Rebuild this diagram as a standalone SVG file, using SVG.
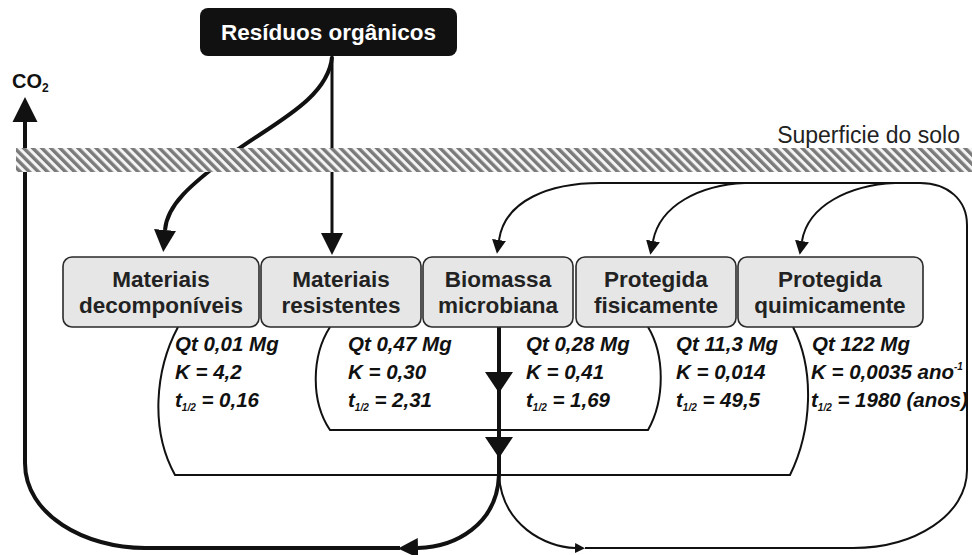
<svg xmlns="http://www.w3.org/2000/svg" width="972" height="555" viewBox="0 0 972 555">
<style>
.box{fill:#e6e6e6;stroke:#2a2a2a;stroke-width:1.6}
.lbl{font-family:"Liberation Sans",Arial,sans-serif;font-weight:bold;font-size:22.5px;fill:#222;text-anchor:middle}
.dat{font-family:"Liberation Sans",Arial,sans-serif;font-weight:bold;font-style:italic;font-size:20.5px;fill:#111}
.thick{fill:none;stroke:#111;stroke-width:4}
.med{fill:none;stroke:#111;stroke-width:3}
.thin{fill:none;stroke:#111;stroke-width:2}
.head{fill:#111}
</style>
<defs>
<marker id="ahBig" viewBox="0 0 10 10" refX="0" refY="5" markerWidth="22" markerHeight="26" markerUnits="userSpaceOnUse" orient="auto"><path d="M0,0 L10,5 L0,10 z" fill="#111"/></marker>
<marker id="ahCo2" viewBox="0 0 10 10" refX="0" refY="5" markerWidth="25" markerHeight="27" markerUnits="userSpaceOnUse" orient="auto"><path d="M0,0 L10,5 L0,10 z" fill="#111"/></marker>
<marker id="ahMid" viewBox="0 0 10 10" refX="0" refY="5" markerWidth="20" markerHeight="24" markerUnits="userSpaceOnUse" orient="auto"><path d="M0,0 L10,5 L0,10 z" fill="#111"/></marker>
<marker id="ahThin" viewBox="0 0 10 10" refX="0" refY="5" markerWidth="14" markerHeight="14" markerUnits="userSpaceOnUse" orient="auto"><path d="M0,0 L10,5 L0,10 z" fill="#111"/></marker>
<marker id="ahSmall" viewBox="0 0 10 10" refX="0" refY="5" markerWidth="10" markerHeight="10" markerUnits="userSpaceOnUse" orient="auto"><path d="M0,0 L10,5 L0,10 z" fill="#111"/></marker>
<pattern id="hatch" patternUnits="userSpaceOnUse" width="6.4" height="6.4" patternTransform="rotate(-45)">
<rect x="0" y="0" width="6.4" height="6.4" fill="#f4f4f4"/>
<rect x="0" y="0" width="3.4" height="6.4" fill="#7a7a7a"/>
</pattern>
</defs>
<rect width="972" height="555" fill="#ffffff"/>

<g id="connectors">
<path class="med" d="M332 56 L332 233" marker-end="url(#ahBig)"/>
<path class="thick" d="M332 57 C328 100 270 125 230 155 C190 185 167 205 165 230" marker-end="url(#ahBig)"/>
<path class="thin" d="M178 327 C155 370 150 430 175 475 L790 475 C812 430 815 370 793 327"/>
<path class="thin" d="M330 327 C312 355 310 400 330 430 L648 430 C665 400 665 355 648 327"/>
<path class="thick" d="M499 327 L499 475"/>
<polygon class="head" points="485,372 513,372 499,393"/>
<polygon class="head" points="485,437 513,437 499,458"/>
<path class="thick" d="M499 475 C497 525 455 547 418 548" marker-end="url(#ahMid)"/>
<path class="thick" d="M400 548 L145 548 C85 548 25 515 25 463 L25 122" marker-end="url(#ahCo2)"/>
<path class="thin" d="M499 475 C502 525 545 547 575 548" marker-end="url(#ahSmall)"/>
<path class="thin" d="M585 548 L853 548 C915 548 967 515 967 470 L967 225 C967 200 948 183 920 183 L600 183 C550 183 505 200 499 240" marker-end="url(#ahThin)"/>
<path class="thin" d="M745 183 C700 185 660 205 653 241" marker-end="url(#ahThin)"/>
<path class="thin" d="M895 183 C850 185 808 205 802 241" marker-end="url(#ahThin)"/>
</g>

<g id="soil-surface">
<rect x="16" y="148" width="956" height="24" fill="url(#hatch)"/>
<text x="960" y="143" text-anchor="end" font-family="'Liberation Sans',Arial,sans-serif" font-size="23" fill="#222">Superficie do solo</text>
</g>

<g id="co2">
<text x="12" y="88" font-family="'Liberation Sans',Arial,sans-serif" font-weight="bold" font-size="20" fill="#111">CO<tspan font-size="12" dy="4">2</tspan></text>
</g>

<g id="residuos">
<rect x="200" y="8" width="257" height="48" rx="8" ry="8" fill="#111"/>
<text class="lbl" x="328.5" y="40" style="fill:#fff">Resíduos orgânicos</text>
</g>

<g id="materiais-decomponiveis">
<rect class="box" x="63" y="257" width="196" height="70" rx="9"/>
<text class="lbl" x="161" y="287">Materiais</text>
<text class="lbl" x="161" y="313">decomponíveis</text>
<text class="dat" x="175" y="351">Qt 0,01 Mg</text>
<text class="dat" x="175" y="379">K = 4,2</text>
<text class="dat" x="175" y="407">t<tspan font-size="10" dy="4">1/2</tspan><tspan dy="-4"> = 0,16</tspan></text>
</g>

<g id="materiais-resistentes">
<rect class="box" x="261" y="257" width="160" height="70" rx="9"/>
<text class="lbl" x="341" y="287">Materiais</text>
<text class="lbl" x="341" y="313">resistentes</text>
<text class="dat" x="348" y="351">Qt 0,47 Mg</text>
<text class="dat" x="348" y="379">K = 0,30</text>
<text class="dat" x="348" y="407">t<tspan font-size="10" dy="4">1/2</tspan><tspan dy="-4"> = 2,31</tspan></text>
</g>

<g id="biomassa-microbiana">
<rect class="box" x="423" y="257" width="150" height="70" rx="9"/>
<text class="lbl" x="498" y="287">Biomassa</text>
<text class="lbl" x="498" y="313">microbiana</text>
<text class="dat" x="526" y="351">Qt 0,28 Mg</text>
<text class="dat" x="526" y="379">K = 0,41</text>
<text class="dat" x="526" y="407">t<tspan font-size="10" dy="4">1/2</tspan><tspan dy="-4"> = 1,69</tspan></text>
</g>

<g id="protegida-fisicamente">
<rect class="box" x="576" y="257" width="160" height="70" rx="9"/>
<text class="lbl" x="656" y="287">Protegida</text>
<text class="lbl" x="656" y="313">fisicamente</text>
<text class="dat" x="676" y="351">Qt 11,3 Mg</text>
<text class="dat" x="676" y="379">K = 0,014</text>
<text class="dat" x="676" y="407">t<tspan font-size="10" dy="4">1/2</tspan><tspan dy="-4"> = 49,5</tspan></text>
</g>

<g id="protegida-quimicamente">
<rect class="box" x="738" y="257" width="185" height="70" rx="9"/>
<text class="lbl" x="830" y="287">Protegida</text>
<text class="lbl" x="830" y="313">quimicamente</text>
<text class="dat" x="812" y="351">Qt 122 Mg</text>
<text class="dat" x="811" y="379">K = 0,0035 ano<tspan font-size="10" dy="-9">-1</tspan></text>
<text class="dat" x="811" y="407">t<tspan font-size="10" dy="4">1/2</tspan><tspan dy="-4"> = 1980 (anos)</tspan></text>
</g>
</svg>
